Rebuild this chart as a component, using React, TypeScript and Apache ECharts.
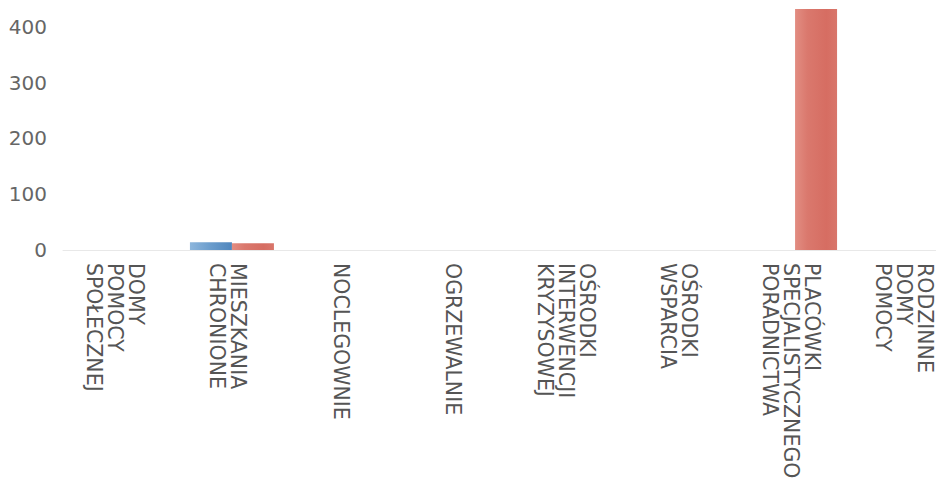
import React, { useEffect, useRef } from "react";
import * as echarts from "echarts";

const categories = [
  "DOMY\nPOMOCY\nSPOŁECZNEJ",
  "MIESZKANIA\nCHRONIONE",
  "NOCLEGOWNIE",
  "OGRZEWALNIE",
  "OŚRODKI\nINTERWENCJI\nKRYZYSOWEJ",
  "OŚRODKI\nWSPARCIA",
  "PLACÓWKI\nSPECJALISTYCZNEGO\nPORADNICTWA",
  "RODZINNE\nDOMY\nPOMOCY",
];
const blueValues = [0, 14, 0, 0, 0, 0, 0, 0];
const redValues = [0, 12, 0, 0, 0, 0, 432, 0];
const yMax = 432;
const yInterval = 100;

export default function App() {
  const ref = useRef<HTMLDivElement>(null);
  useEffect(() => {
    if (!ref.current) return;
    const chart = echarts.init(ref.current, undefined, { renderer: "svg" });
    const blueGrad = new echarts.graphic.LinearGradient(0, 0, 1, 0, [
      { offset: 0, color: "#8db6dc" },
      { offset: 0.5, color: "#6a9ccc" },
      { offset: 1, color: "#4f86bd" },
    ]);
    const redGrad = new echarts.graphic.LinearGradient(0, 0, 1, 0, [
      { offset: 0, color: "#e28d82" },
      { offset: 0.3, color: "#da786d" },
      { offset: 0.75, color: "#d66d62" },
      { offset: 1, color: "#d9766b" },
    ]);
    chart.setOption({
      animation: false,
      grid: [
        { left: 63, right: 0, top: 9, bottom: 240, containLabel: false },
        { left: 59, right: 4, top: 9, bottom: 240, containLabel: false },
      ],
      xAxis: [
        {
          type: "category",
          gridIndex: 0,
          data: categories,
          axisTick: { show: false },
          axisLine: { show: true, lineStyle: { color: "#e8e8e8", width: 1 } },
          axisLabel: { show: false },
        },
        {
          type: "category",
          gridIndex: 1,
          data: categories,
          axisTick: { show: false },
          axisLine: { show: false },
          axisLabel: {
            rotate: -90,
            margin: 13,
            interval: 0,
            fontFamily: "DejaVu Sans",
            fontSize: 20.5,
            lineHeight: 21,
            color: "#555",
          },
        },
      ],
      yAxis: [
        {
          type: "value",
          gridIndex: 0,
          min: 0,
          max: yMax,
          interval: yInterval,
          splitLine: { show: false },
          axisLine: { show: false },
          axisTick: { show: false },
          axisLabel: {
            showMaxLabel: false,
            margin: 16,
            fontFamily: "DejaVu Sans",
            fontSize: 20,
            color: "#666",
          },
        },
        {
          type: "value",
          gridIndex: 1,
          min: 0,
          max: yMax,
          show: false,
        },
      ],
      series: [
        {
          type: "bar",
          data: blueValues,
          barWidth: 42,
          barGap: "0%",
          itemStyle: { color: blueGrad },
        },
        {
          type: "bar",
          data: redValues,
          barWidth: 42,
          barGap: "0%",
          itemStyle: { color: redGrad },
        },
      ],
    });
    return () => chart.dispose();
  }, []);
  return (
    <div
      style={{ position: "fixed", left: 0, top: 0, width: 936, height: 490, overflow: "hidden", background: "#fff" }}
    >
      <div ref={ref} style={{ width: 964, height: 490 }} />
    </div>
  );
}
